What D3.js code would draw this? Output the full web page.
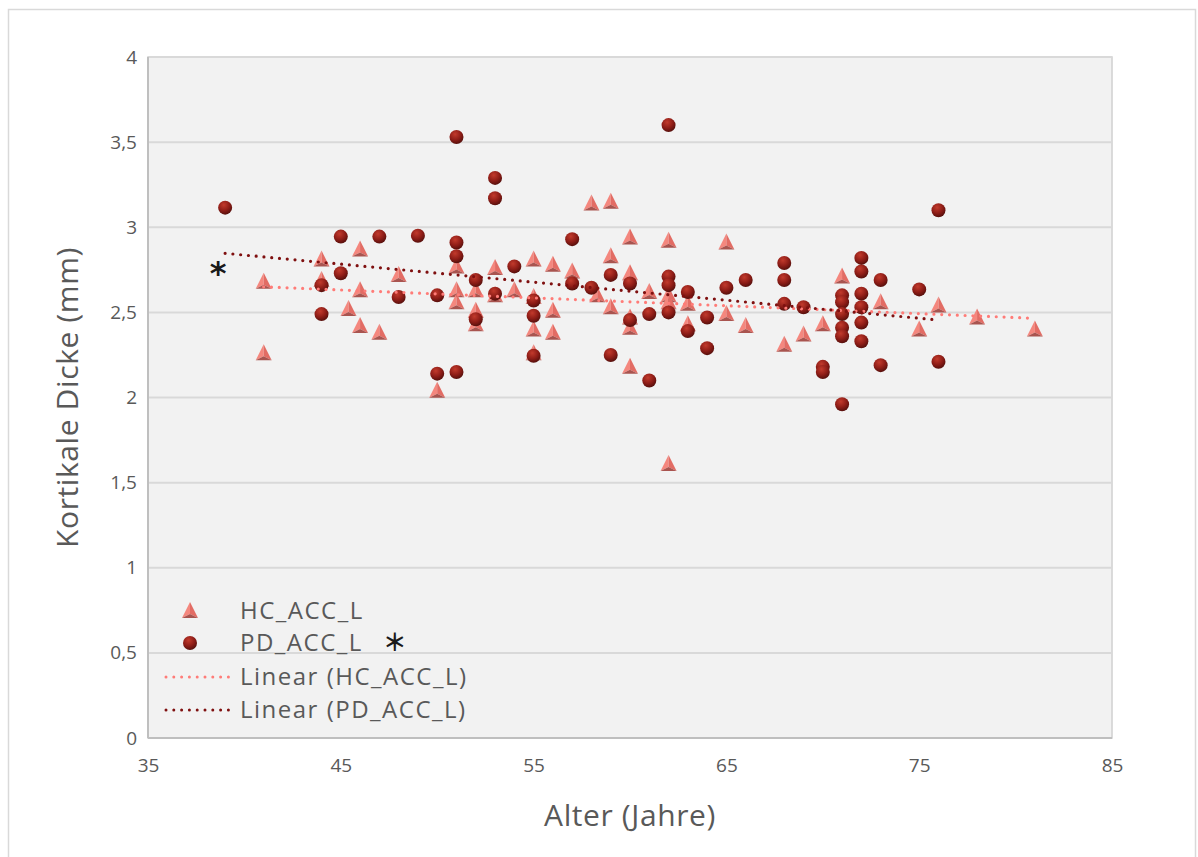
<!DOCTYPE html>
<html><head><meta charset="utf-8">
<script src="https://cdn.jsdelivr.net/npm/d3@7/dist/d3.min.js"></script>
<style>
html,body{margin:0;padding:0;background:#fff;}
svg{display:block;font-family:"Open Sans",Lato,sans-serif;}
</style></head>
<body>
<svg id="chart" width="1198" height="857"></svg>
<script>
// ---- data ----
const hcAge = [41,41,44,44,45.4,46,46,46,47,48,50,51,51,51,52,52,52,53,53,54,55,55,55,55,56,56,56,57,58,58.3,59,59,59,60,60,60,60,60,61,62,62,62,62,63,63,65,65,66,68,69,70,71,73,75,76,78,81];
const hcVal = [2.68,2.26,2.81,2.69,2.52,2.87,2.63,2.42,2.38,2.72,2.04,2.77,2.63,2.56,2.63,2.51,2.43,2.76,2.60,2.63,2.81,2.59,2.40,2.26,2.78,2.51,2.38,2.74,3.14,2.60,3.15,2.83,2.53,2.94,2.73,2.47,2.41,2.18,2.62,2.92,2.60,2.56,1.61,2.55,2.43,2.91,2.49,2.42,2.31,2.37,2.43,2.71,2.56,2.40,2.54,2.47,2.40];
const pdAge = [39,44,44,45,45,47,48,49,50,50,51,51,51,51,52,52,53,53,53,54,55,55,55,57,57,58,59,59,60,60,61,61,62,62,62,62,63,63,64,64,65,66,68,68,68,69,70,70,71,71,71,71,71,71,72,72,72,72,72,72,73,73,75,76,76];
const pdVal = [3.115,2.66,2.49,2.945,2.73,2.945,2.59,2.95,2.60,2.14,3.53,2.91,2.83,2.15,2.69,2.46,3.29,3.17,2.61,2.77,2.57,2.48,2.245,2.93,2.67,2.645,2.72,2.25,2.67,2.455,2.49,2.10,3.60,2.71,2.66,2.50,2.62,2.39,2.47,2.29,2.645,2.69,2.79,2.69,2.55,2.53,2.18,2.15,2.60,2.56,2.49,2.41,2.36,1.96,2.82,2.74,2.61,2.53,2.44,2.33,2.69,2.19,2.635,3.10,2.21];
// linear trend lines: [age, value] at both ends
const hcTrendAge = [41,81];
const hcTrendVal = [2.65,2.465];
const pdTrendAge = [39,76];
const pdTrendVal = [2.847,2.455];
const xTicks = [35,45,55,65,75,85];
const yTicks = [0,0.5,1,1.5,2,2.5,3,3.5,4];
const seriesNames = ["HC_ACC_L","PD_ACC_L","Linear (HC_ACC_L)","Linear (PD_ACC_L)"];
const xTitle = "Alter (Jahre)";
const yTitle = "Kortikale Dicke (mm)";

// ---- layout ----
const svg = d3.select("#chart");
const L = 148, R = 1112, T = 57, B = 738;
const x = d3.scaleLinear().domain([35,85]).range([L,R]);
const y = d3.scaleLinear().domain([0,4]).range([B,T]);
const grey = "#595959";
const FONT = "'Open Sans',Lato,sans-serif";

const defs = svg.append("defs");
const rg = defs.append("radialGradient").attr("id","sph").attr("cx","40%").attr("cy","30%").attr("r","75%");
rg.append("stop").attr("offset","0%").attr("stop-color","#c23a2c");
rg.append("stop").attr("offset","55%").attr("stop-color","#8e1d17");
rg.append("stop").attr("offset","100%").attr("stop-color","#4e0e0b");

// outer border
svg.append("rect").attr("x",8.5).attr("y",9.5).attr("width",1187).attr("height",860)
  .attr("fill","#fff").attr("stroke","#d9d9d9").attr("stroke-width",1.5);

// plot area
svg.append("rect").attr("x",L).attr("y",T).attr("width",R-L).attr("height",B-T)
  .attr("fill","#f2f2f2").attr("stroke","#d0d0d0").attr("stroke-width",1.5);

// gridlines
svg.append("g").selectAll("line").data(yTicks.filter(d=>d>0)).join("line")
  .attr("x1",L).attr("x2",R).attr("y1",d=>y(d)).attr("y2",d=>y(d))
  .attr("stroke","#d9d9d9").attr("stroke-width",2);
// axis lines
svg.append("line").attr("x1",L).attr("x2",L).attr("y1",T).attr("y2",B).attr("stroke","#bfbfbf").attr("stroke-width",2);
svg.append("line").attr("x1",L).attr("x2",R).attr("y1",B).attr("y2",B).attr("stroke","#bfbfbf").attr("stroke-width",2);

// axes via d3
const fmt = d => String(d).replace(".", ",");
const yAx = svg.append("g").attr("transform",`translate(${L-11},0)`)
  .call(d3.axisLeft(y).tickValues(yTicks).tickFormat(fmt).tickSize(0).tickPadding(0));
yAx.select(".domain").remove();
yAx.selectAll("text").attr("fill",grey).style("font-size","19px").style("font-family",FONT);
const xAx = svg.append("g").attr("transform",`translate(0,${B+20})`)
  .call(d3.axisBottom(x).tickValues(xTicks).tickFormat(d=>d).tickSize(0).tickPadding(0));
xAx.select(".domain").remove();
xAx.selectAll("text").attr("fill",grey).style("font-size","19px").style("font-family",FONT);

// titles
svg.append("text").attr("x",(L+R)/2).attr("y",826).attr("text-anchor","middle")
  .attr("fill",grey).style("font-size","30px").style("letter-spacing","0.6px").text(xTitle);
svg.append("text").attr("transform",`translate(78,${(T+B)/2}) rotate(-90)`).attr("text-anchor","middle")
  .attr("fill",grey).style("font-size","30px").style("letter-spacing","0.6px").text(yTitle);

function trend(ages, vals, color){
  svg.append("line").attr("x1",x(ages[0])).attr("x2",x(ages[1]))
    .attr("y1",y(vals[0])).attr("y2",y(vals[1]))
    .attr("stroke",color).attr("stroke-width",3.2).attr("stroke-linecap","round")
    .attr("stroke-dasharray","0 7.8");
}

// triangle pyramid marker
function pyramid(g, cx, cy, s){
  const h = s, w = s;
  const A=[cx,cy-h/2-1], Bp=[cx-w/2,cy+h/2-1], C=[cx+w/2,cy+h/2-1], G=[cx,cy+h/2-5];
  const p = pts => "M"+pts.map(q=>q.join(",")).join("L")+"Z";
  g.append("path").attr("d",p([A,Bp,G])).attr("fill","#f4877e");
  g.append("path").attr("d",p([A,C,G])).attr("fill","#e26c64");
  g.append("path").attr("d",p([Bp,C,G])).attr("fill","#a9544f");
}

// HC points
const hcG = svg.append("g");
hcAge.forEach((a,i)=>pyramid(hcG, x(a), y(hcVal[i]), 16));
// PD points
svg.append("g").selectAll("circle").data(pdAge.map((a,i)=>[a,pdVal[i]])).join("circle")
  .attr("cx",d=>x(d[0])).attr("cy",d=>y(d[1])).attr("r",7).attr("fill","url(#sph)");

trend(hcTrendAge, hcTrendVal, "#ff7c78");
trend(pdTrendAge, pdTrendVal, "#7f1010");

// asterisk near PD trend start
svg.append("text").attr("x",218).attr("y",284).attr("text-anchor","middle")
  .attr("fill","#1a1a1a").style("font-size","32px").style("font-weight","bold")
  .style("font-family","DejaVu Sans,sans-serif").text("*");

// legend
const lg = svg.append("g");
const rows = [611,643,677,710];
pyramid(lg, 190, 611, 16);
lg.append("circle").attr("cx",190).attr("cy",643).attr("r",7).attr("fill","url(#sph)");
lg.append("line").attr("x1",166).attr("x2",232).attr("y1",677).attr("y2",677)
  .attr("stroke","#ff7c78").attr("stroke-width",3).attr("stroke-linecap","round").attr("stroke-dasharray","0 7.8");
lg.append("line").attr("x1",166).attr("x2",232).attr("y1",710).attr("y2",710)
  .attr("stroke","#7f1010").attr("stroke-width",3).attr("stroke-linecap","round").attr("stroke-dasharray","0 7.8");
seriesNames.forEach((n,i)=>{
  const t = lg.append("text").attr("x",240).attr("y",rows[i]+8)
    .attr("fill",grey).style("font-size","24px").style("letter-spacing","1.5px").text(n);
  if(i===1){
    t.append("tspan").attr("dx",20).attr("fill","#1a1a1a").style("font-weight","bold")
      .style("font-family","'Noto Sans CJK JP',sans-serif").style("letter-spacing","0px").text("＊");
  }
});
</script>
</body></html>
